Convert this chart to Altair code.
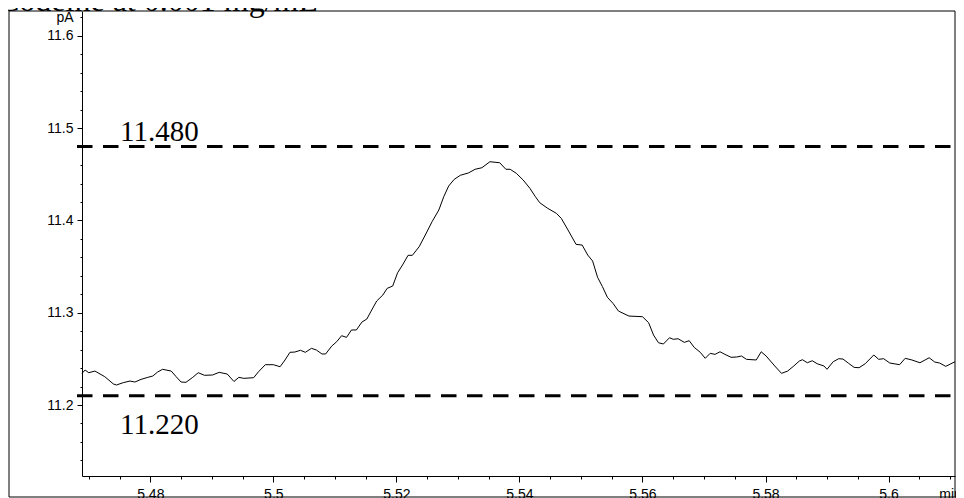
import altair as alt
import pandas as pd

# ---- data ----
time_min = [5.4689, 5.4694, 5.4700, 5.4710, 5.4726, 5.4740, 5.4745, 5.4756, 5.4767, 5.4775,
            5.4785, 5.4796, 5.4804, 5.4812, 5.4820, 5.4834, 5.4842, 5.4850, 5.4858, 5.4869,
            5.4878, 5.4888, 5.4901, 5.4912, 5.4925, 5.4936, 5.4944, 5.4952, 5.4968, 5.4976,
            5.4987, 5.5000, 5.5011, 5.5019, 5.5027, 5.5035, 5.5044, 5.5052, 5.5062, 5.5070,
            5.5079, 5.5085, 5.5095, 5.5103, 5.5111, 5.5119, 5.5127, 5.5135, 5.5144, 5.5152,
            5.5159, 5.5168, 5.5178, 5.5185, 5.5194, 5.5202, 5.5210, 5.5219, 5.5226, 5.5237,
            5.5247, 5.5258, 5.5269, 5.5277, 5.5285, 5.5294, 5.5304, 5.5317, 5.5328, 5.5339,
            5.5352, 5.5368, 5.5378, 5.5385, 5.5395, 5.5406, 5.5417, 5.5426, 5.5433, 5.5446,
            5.5460, 5.5468, 5.5479, 5.5492, 5.5502, 5.5511, 5.5519, 5.5527, 5.5535, 5.5543,
            5.5552, 5.5561, 5.5578, 5.5600, 5.5610, 5.5618, 5.5626, 5.5634, 5.5644, 5.5650,
            5.5658, 5.5668, 5.5676, 5.5684, 5.5694, 5.5702, 5.5710, 5.5718, 5.5726, 5.5734,
            5.5744, 5.5753, 5.5761, 5.5769, 5.5785, 5.5793, 5.5801, 5.5815, 5.5826, 5.5836,
            5.5846, 5.5855, 5.5860, 5.5868, 5.5876, 5.5884, 5.5895, 5.5900, 5.5910, 5.5919,
            5.5926, 5.5935, 5.5944, 5.5952, 5.5962, 5.5976, 5.5984, 5.5992, 5.6002, 5.6018,
            5.6027, 5.6038, 5.6051, 5.6066, 5.6075, 5.6083, 5.6093, 5.6108]

signal_pA = [11.2343, 11.2379, 11.2350, 11.2368, 11.2307, 11.2228, 11.2217, 11.2242, 11.2260, 11.2249,
             11.2278, 11.2300, 11.2314, 11.2358, 11.2387, 11.2368, 11.2307, 11.2249, 11.2246, 11.2300,
             11.2350, 11.2322, 11.2325, 11.2354, 11.2336, 11.2255, 11.2300, 11.2289, 11.2296, 11.2361,
             11.2437, 11.2437, 11.2415, 11.2488, 11.2571, 11.2574, 11.2593, 11.2571, 11.2614, 11.2596,
             11.2553, 11.2553, 11.2639, 11.2686, 11.2751, 11.2733, 11.2813, 11.2813, 11.2899, 11.2932,
             11.3018, 11.3127, 11.3192, 11.3264, 11.3289, 11.3433, 11.3517, 11.3622, 11.3622, 11.3715,
             11.3842, 11.3986, 11.4113, 11.4257, 11.4373, 11.4445, 11.4489, 11.4514, 11.4554, 11.4571,
             11.4636, 11.4625, 11.4554, 11.4554, 11.4510, 11.4438, 11.4348, 11.4257, 11.4192, 11.4131,
             11.4077, 11.4023, 11.3896, 11.3741, 11.3733, 11.3625, 11.3560, 11.3384, 11.3282, 11.3167,
             11.3102, 11.3018, 11.2964, 11.2957, 11.2892, 11.2758, 11.2675, 11.2661, 11.2729, 11.2712,
             11.2718, 11.2679, 11.2697, 11.2625, 11.2571, 11.2506, 11.2560, 11.2549, 11.2577, 11.2549,
             11.2517, 11.2520, 11.2531, 11.2495, 11.2488, 11.2577, 11.2531, 11.2423, 11.2343, 11.2368,
             11.2423, 11.2477, 11.2491, 11.2458, 11.2480, 11.2447, 11.2423, 11.2387, 11.2469, 11.2502,
             11.2498, 11.2452, 11.2408, 11.2404, 11.2447, 11.2542, 11.2495, 11.2502, 11.2455, 11.2437,
             11.2506, 11.2488, 11.2458, 11.2512, 11.2466, 11.2455, 11.2419, 11.2469]

ref_values = [11.48, 11.21]
ref_labels = ["11.480", "11.220"]
title_text = "Codeine at 0.001 mg/mL"

x_domain = [5.4689, 5.6108]
y_domain = [11.1231, 11.6269]
x_major = [5.48, 5.50, 5.52, 5.54, 5.56, 5.58, 5.60]
x_minor = [round(5.47 + 0.005 * i, 3) for i in range(29)]
y_major = [11.2, 11.3, 11.4, 11.5, 11.6]
y_minor = [round(11.14 + 0.02 * i, 2) for i in range(25)]

W, H = 873, 465
FONT = "Liberation Sans"
SERIF = "Liberation Serif"

curve = pd.DataFrame({"time": time_min, "signal": signal_pA})
refs = pd.DataFrame({"value": ref_values, "label": ref_labels})
one = pd.DataFrame({"title": [title_text]})

xs = alt.Scale(domain=x_domain, nice=False, zero=False)
ys = alt.Scale(domain=y_domain, nice=False, zero=False)

common_axis = dict(title=None, grid=False, labelFont=FONT, labelFontSize=14,
                   labelColor="black", tickColor="black", domainColor="black",
                   labelFlush=False, labelOverlap=False, tickWidth=1, domainWidth=1)

line = alt.Chart(curve).mark_line(color="black", strokeWidth=1).encode(
    x=alt.X("time:Q", scale=xs,
            axis=alt.Axis(orient="bottom", values=x_major, format="~g",
                          tickSize=6, labelPadding=5, **common_axis)),
    y=alt.Y("signal:Q", scale=ys,
            axis=alt.Axis(orient="left", values=y_major, format="~g",
                          tickSize=5, labelPadding=4, **common_axis)),
)

minor = alt.Chart(curve).mark_point(opacity=0).encode(
    x=alt.X("time:Q", scale=xs,
            axis=alt.Axis(orient="bottom", values=x_minor, tickSize=3, labelPadding=8,
                          domain=False,
                          labelExpr="abs(datum.value - 5.61) < 0.0001 ? 'min' : ''",
                          **common_axis)),
    y=alt.Y("signal:Q", scale=ys,
            axis=alt.Axis(orient="left", values=y_minor, tickSize=2, labelPadding=7,
                          domain=False,
                          labelExpr="abs(datum.value - 11.62) < 0.0001 ? 'pA' : ''",
                          **common_axis)),
)

rules = alt.Chart(refs).mark_rule(color="black", strokeWidth=3, strokeDash=[15.5, 10.5]).encode(
    x=alt.value(-5), x2=alt.value(W),
    y=alt.Y("value:Q", scale=ys, axis=None),
)

top_label = alt.Chart(refs).transform_filter(alt.datum.label == "11.480").mark_text(
    font=SERIF, fontSize=29, align="left", baseline="alphabetic", dy=-6, color="black"
).encode(x=alt.value(38), y=alt.Y("value:Q", scale=ys, axis=None), text="label:N")

bottom_label = alt.Chart(refs).transform_filter(alt.datum.label == "11.220").mark_text(
    font=SERIF, fontSize=29, align="left", baseline="alphabetic", dy=38, color="black"
).encode(x=alt.value(38), y=alt.Y("value:Q", scale=ys, axis=None), text="label:N")

frame = alt.Chart(one).mark_rect(fillOpacity=0, stroke="black", strokeWidth=1).encode(
    x=alt.value(-73), x2=alt.value(W), y=alt.value(0), y2=alt.value(486)
)

title = alt.Chart(one).mark_text(
    font=SERIF, fontSize=32, align="left", baseline="alphabetic", color="black"
).encode(x=alt.value(-84), y=alt.value(0), text="title:N")

chart = alt.layer(frame, minor, line, rules, top_label, bottom_label, title).resolve_axis(
    x="independent", y="independent"
).properties(
    width=W, height=H,
    padding={"left": 74, "top": 3, "right": 1, "bottom": 22},
    autosize=alt.AutoSizeParams(type="none"),
    background="white",
).configure_view(stroke=None)

chart.save("out.html", embed_options={"renderer": "svg", "actions": False})
